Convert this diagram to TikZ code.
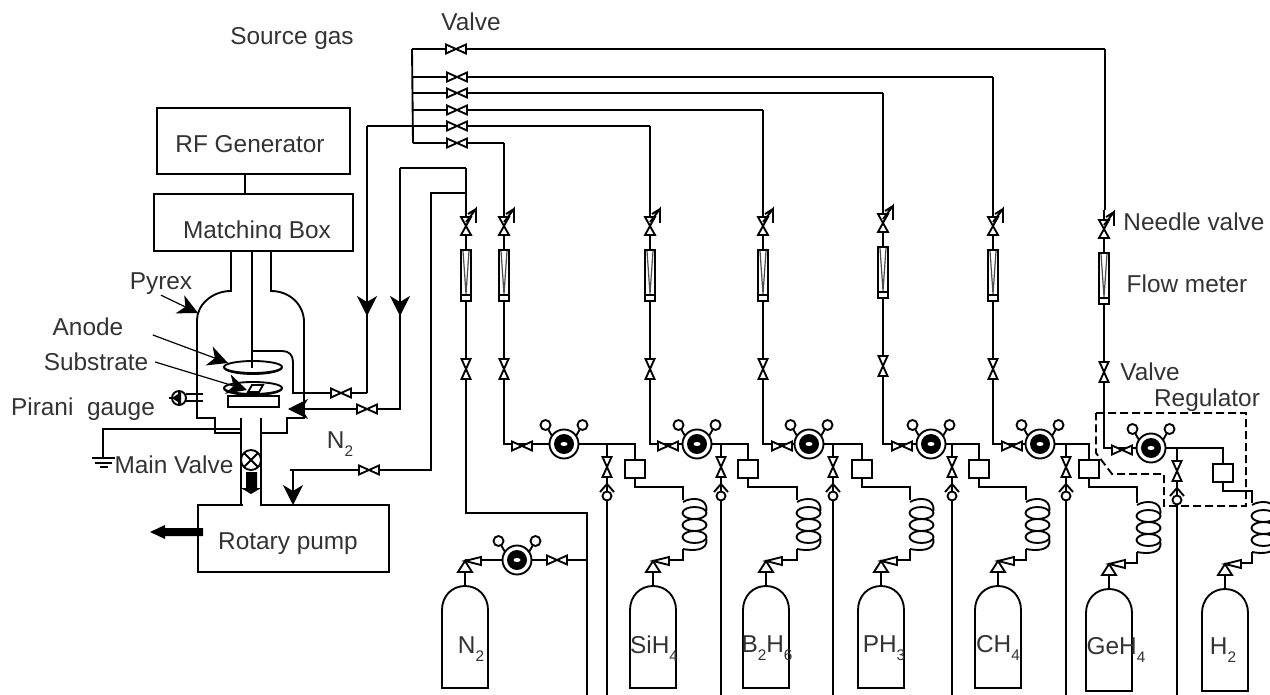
\documentclass[tikz,border=0pt]{standalone}
\usepackage{fontspec}
\setmainfont{Liberation Sans}
\usetikzlibrary{arrows.meta}
\newcommand{\gassub}[1]{\raisebox{-6pt}{\fontsize{11.5}{11.5}\selectfont #1}}
\tikzset{
  pipe/.style={line width=1.4pt},
  thinpipe/.style={line width=0.9pt},
  lbl/.style={font=\fontsize{18.3}{18.3}\selectfont, text=black!80, inner sep=0pt},
  boxshape/.style={draw, pipe, rectangle, inner sep=0pt},
  bigtip/.style={-{Stealth[length=15pt, width=15pt, inset=4.5pt]}},
  valve/.pic={\draw [pipe, fill=white] (-10,-4.5) -- (10,4.5) -- (10,-4.5) -- (-10,4.5) -- cycle;},
  needle/.pic={
    \draw [pipe, fill=white] (-5,-9) -- (5,9) -- (-5,9) -- (5,-9) -- cycle;
    \draw [pipe] (0,-4) -- (10,-17) -- (10,-3) (10,-17) -- (2,-12);},
  flowmeter/.pic={
    \draw [pipe, fill=white] (-5,0) rectangle (5,51);
    \draw [thinpipe] (-5,45) -- (5,45);
    \draw [thinpipe, black!70] (-3,1) -- (0,44) -- (3,1);},
  regulator/.pic={
    \draw [pipe] (-12,-8) -- (-16,-15) (12,-8) -- (16,-15);
    \draw [pipe, fill=white] (-18.5,-19) circle [radius=5];
    \draw [pipe, fill=white] (18.5,-19) circle [radius=5];
    \draw [pipe, fill=white] (0,0) circle [radius=14.5];
    \fill (0,0) circle [radius=10];
    \fill [white] (0,0) ellipse [x radius=3.5, y radius=2];},
  checkvalve/.pic={
    \draw [pipe] (-7,8) -- (0,0) -- (7,8);
    \draw [pipe, fill=white] (0,12) circle [radius=4.5];},
  coilspring/.pic={
    \foreach \cy in {13,25,37} \draw [pipe] (11.5,\cy) ellipse [x radius=12, y radius=6];
    \draw [pipe] (0,2) .. controls (8,-3) and (25,-3) .. (23.5,11);
    \draw [pipe] (23.5,39) .. controls (25,51) and (10,51) .. (0,49);},
  bottle/.pic={
    \draw [pipe] (0,-14) -- (0,0);
    \draw [pipe, fill=white] (-7,-14) -- (7,-14) -- (0,-25) -- cycle;
    \draw [pipe, fill=white] (0,-25) -- (16,-29) -- (16,-21) -- cycle;
    \draw [pipe] (-23,102) -- (-23,24) .. controls (-23,10) and (-13,0) .. (0,0)
      .. controls (13,0) and (23,10) .. (23,24) -- (23,102) -- cycle;},
}
\begin{document}
\begin{tikzpicture}[x=0.75pt, y=-0.75pt, >=stealth]
  \useasboundingbox (0,0) rectangle (1270,695);
  % boxes on the left
  \node (rfgen) at (253.5,141) [boxshape, minimum width=144.75pt, minimum height=49.5pt] {};
  \node (matchbox) at (253.5,222.5) [boxshape, minimum width=149.25pt, minimum height=42.75pt] {};
  \node (rotary) at (293.5,538.5) [boxshape, minimum width=143.25pt, minimum height=50.25pt] {};
  \node (rflbl) at (250,144) [lbl] {RF Generator};
  \node (matchlbl) at (257,232.5) [lbl] {Matching Box};
  \fill [white] (175,239.5) rectangle (340,249);
  \node (rotarylbl) at (288,544) [lbl] {Rotary pump};
  \coordinate (feed) at (245,184);
  \draw [pipe] (rfgen.south -| feed) -- (matchbox.north -| feed);
  % chamber
  \draw [pipe] (231,251) -- (231,291) .. controls (212,291) and (197,305) .. (197,320)
    -- (197,418) -- (215,418) -- (215,433) -- (241,433);
  \draw [pipe] (271,251) -- (271,291) .. controls (290,291) and (304,305) .. (304,322)
    -- (304,418) -- (287,418) -- (287,433) -- (261,433);
  \draw [pipe] (252,251) -- (252,368);
  \draw [pipe] (241,418) -- (241,505);
  \draw [pipe] (261,418) -- (261,505);
  \draw [white, line width=2.5pt] (242.5,505) -- (259.5,505);
  \draw [pipe] (252,351) -- (282,351) .. controls (289,351) and (293,355) .. (293,362)
    -- (293,393) -- (367,393);
  \draw [line width=2.2pt] (252,351) -- (262,351);
  \draw [pipe, fill=white] (253,367) ellipse [x radius=29, y radius=6];
  \draw [pipe] (224,368) .. controls (230,376) and (276,376) .. (282,368);
  \draw [pipe] (252,351) -- (252,368);
  \draw [pipe, fill=white] (253,388) ellipse [x radius=29, y radius=6];
  \draw [pipe] (224,389) .. controls (230,397) and (276,397) .. (282,389);
  \draw [pipe, fill=white] (228,396) rectangle (279,407);
  \draw [pipe, fill=white] (248,392) -- (259,392) -- (263,385) -- (252,385) -- cycle;
  % gauge, ground, valve and pump arrows
  \draw [pipe] (186,394) -- (203,394) (186,401) -- (203,401);
  \draw [pipe, fill=white] (179,398) circle [radius=7];
  \fill (172,398) -- (181,392) -- (181,404) -- cycle;
  \draw [thinpipe] (169,398) -- (172,398) (179,390) -- (179,406);
  \draw [pipe] (241,429) -- (103,429) -- (103,458);
  \draw [pipe] (92,458) -- (115,458);
  \draw [pipe] (95,463) -- (112,463);
  \draw [pipe] (100,467) -- (108,467);
  \draw [pipe, fill=white] (251,460) circle [radius=10];
  \draw [pipe] (244,453) -- (258,467) (258,453) -- (244,467);
  \fill (246,472) -- (257,472) -- (257,488) -- (261,488) -- (251,494) -- (241,488) -- (246,488) -- cycle;
  \fill (203,528) -- (165,528) -- (165,525) -- (150,532) -- (165,539) -- (165,536) -- (203,536) -- cycle;
  % vent lines to the chamber
  \draw [pipe, bigtip] (367,126) -- (367,316);
  \draw [pipe] (367,310) -- (367,393);
  \draw [pipe, bigtip] (400,168) -- (400,316);
  \draw [pipe] (400,310) -- (400,409) -- (367,409);
  \coordinate (ventend) at (288,409);
  \draw [thinpipe, bigtip] (367,409) -- (ventend);
  \draw [pipe] (466,168) -- (400,168);
  \draw [pipe] (466,193) -- (431,193) -- (431,470) -- (290,470);
  \coordinate (pumpin) at (293,505);
  \draw [pipe, bigtip] (293,470) -- (pumpin);
  \pic at (341,393) {valve};
  \pic at (367,409) {valve};
  \pic at (369,470) {valve};
  % source gas manifold
  \draw [pipe] (412,49) -- (413,143);
  \draw [pipe] (412,49) -- (1105,49);
  \draw [pipe] (413,77) -- (993,77);
  \draw [pipe] (413,93) -- (883,93);
  \draw [pipe] (413,110) -- (763,110);
  \draw [pipe] (367,126) -- (650,126);
  \draw [pipe] (413,143) -- (504,143);
  \foreach \vy in {77,93,110,126,143} \pic at (457,\vy) {valve};
  \pic at (456,49) {valve};
  % gas columns
  \draw [pipe] (466,168) -- (466,513) -- (587,513) -- (587,695);
  \draw [pipe] (587,560) -- (465,560);
  \pic at (557,560) {valve};
  \pic at (517,560) {regulator};
  \pic at (465,586) {bottle};
  \foreach \inx/\tp in {504/143,650/126,763/110,883/93,993/77,1105/49} \draw [pipe] (\inx,\tp) -- (\inx,210);
  \foreach \inx/\vlv/\rgx/\brn/\bxx/\cil/\btl/\ry/\dy in {
    504/522/564/607/635/683/653/444/0,
    650/668/697/721/748/797/766/444/0,
    763/782/809/833/862/910/881/444/0,
    883/902/931/952/979/1026/998/444/0,
    993/1012/1040/1066/1089/1137/1109/444/3,
    1104/1122/1151/1177/1223/1252/1225/448/3} {
    \draw [pipe] (\inx,210) -- (\inx,\ry) -- (\bxx,\ry) -- (\bxx,\ry+43) -- (\cil,\ry+43) -- (\cil,500+\dy);
    \draw [pipe] (\brn,\ry) -- (\brn,695);
    \draw [line width=2pt] (\brn,535) -- (\brn,553);
    \draw [pipe, fill=white] (\bxx-10,\ry+16) rectangle (\bxx+10,\ry+34);
    \pic at (\vlv,\ry+2) {valve};
    \pic at (\rgx,\ry) {regulator};
    \pic [rotate=90] at (\brn,\ry+23) {valve};
    \pic at (\brn,\ry+40) {checkvalve};
    \pic at (\cil,500+\dy) {coilspring};
    \draw [pipe] (\cil,549+\dy) -- (\cil,560+\dy) -- (\btl+16,560+\dy);
    \pic at (\btl,586+\dy) {bottle};
  }
  \foreach \inx/\dy in {466/0,504/0,650/0,763/0,883/-3,993/0,1104/3} {
    \pic at (\inx,226+\dy) {needle};
    \pic at (\inx,250+\dy) {flowmeter};
    \pic [rotate=90] at (\inx,369+\dy) {valve};
  }
  % regulator outline
  \draw [pipe, dash pattern=on 6pt off 3pt] (1096,413) -- (1246,413) -- (1246,506) -- (1164,506) -- (1164,474) -- (1112,474) -- (1096,453) -- cycle;
  % labels
  \node (srclbl) at (292,39) [lbl] {Source gas};
  \node (valvelbl) at (471,22) [lbl] {Valve};
  \node (pyrexlbl) at (161,284) [lbl] {Pyrex};
  \node (anodelbl) at (88,327) [lbl] {Anode};
  \node (substratelbl) at (96,362) [lbl] {Substrate};
  \node (piranilbl) at (83,409) [lbl] {Pirani\ \ gauge};
  \node (mainlbl) at (174,465) [lbl] {Main Valve};
  \node (n2lbl) at (340,444) [lbl] {N\gassub{2}};
  \node (needlelbl) at (1194,222) [lbl] {Needle valve};
  \node (flowlbl) at (1187,284) [lbl] {Flow meter};
  \node (valvetwolbl) at (1150,372) [lbl] {Valve};
  \node (reglbl) at (1207,400) [lbl] {Regulator};
  \node (bn2) at (471,649) [lbl] {N\gassub{2}};
  \node (bsih) at (654,649) [lbl] {SiH\gassub{4}};
  \node (bbh) at (767,648) [lbl] {B\gassub{2}H\gassub{6}};
  \node (bph) at (884,648) [lbl] {PH\gassub{3}};
  \node (bch) at (998,648) [lbl] {CH\gassub{4}};
  \node (bgeh) at (1116,650) [lbl] {GeH\gassub{4}};
  \node (bh) at (1223,650) [lbl] {H\gassub{2}};
  % callout arrows
  \coordinate (domeedge) at (198,313);
  \coordinate (anodeedge) at (228,363);
  \coordinate (sampleedge) at (247,390);
  \draw [thinpipe, bigtip] (pyrexlbl.south) -- (domeedge);
  \draw [thinpipe, bigtip] ([xshift=22pt,yshift=-6pt]anodelbl.east) -- (anodeedge);
  \draw [thinpipe, bigtip] ([xshift=5pt]substratelbl.east) -- (sampleedge);
\end{tikzpicture}
\end{document}
